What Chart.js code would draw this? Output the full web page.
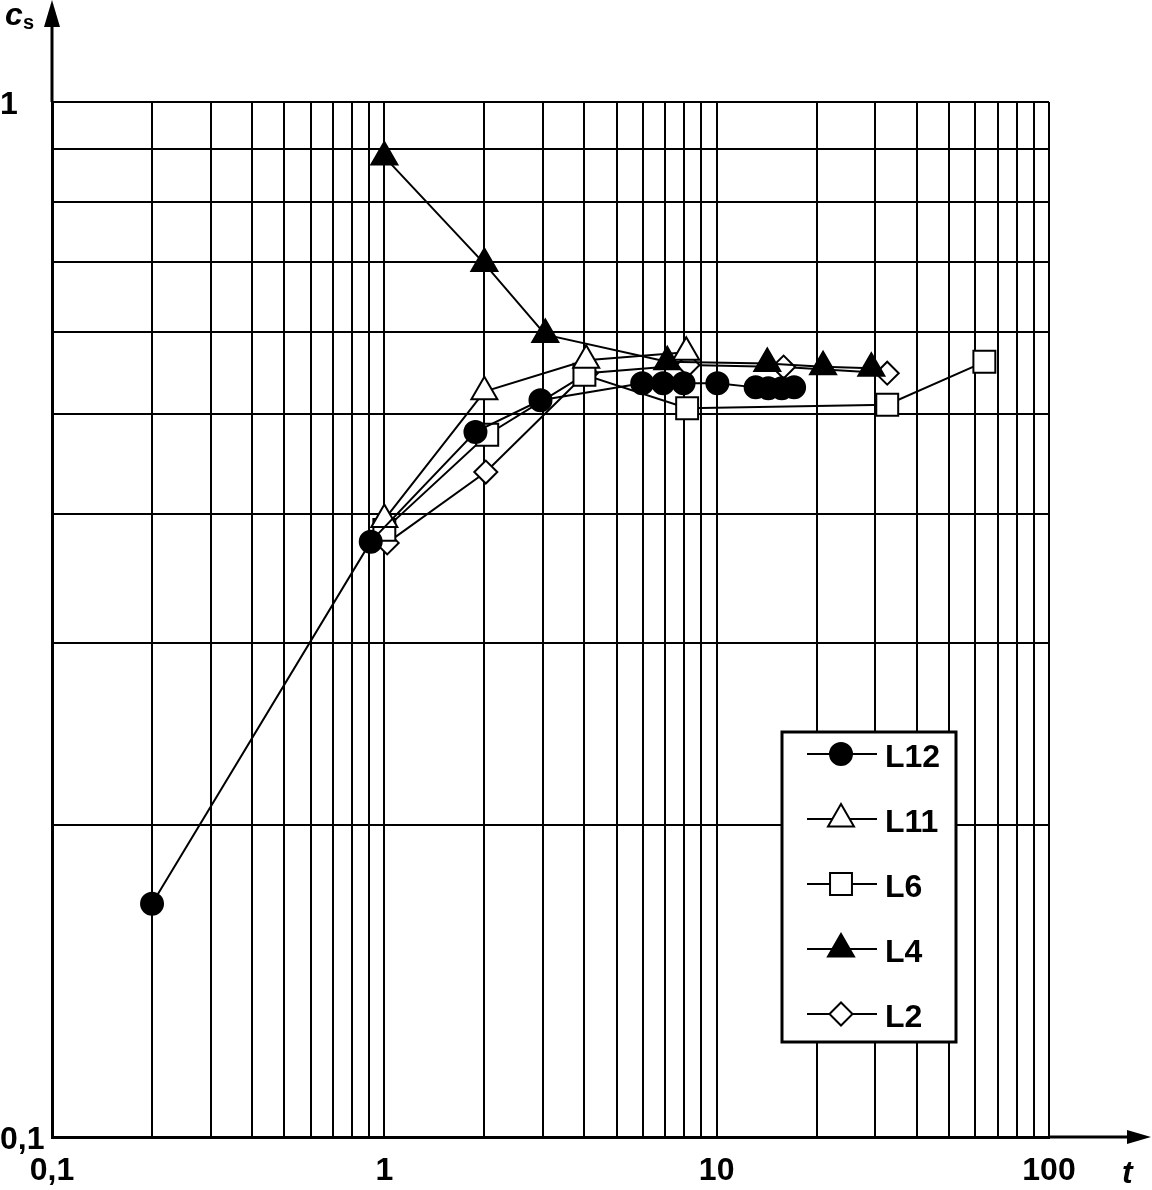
<!DOCTYPE html>
<html>
<head>
<meta charset="utf-8">
<script src="https://cdn.jsdelivr.net/npm/chart.js@4.4.1/dist/chart.umd.min.js"></script>
<style>
  html, body { margin: 0; padding: 0; background: #fff; }
  canvas { display: block; }
</style>
</head>
<body>
<canvas id="cs-chart" width="1152" height="1190"></canvas>
<script>
// t values (log axis) and c_s values
const l12T = [0.2, 0.91, 1.88, 2.95, 5.97, 6.9, 7.95, 10.05, 13.1, 14.3, 15.7, 17.1];
const l12C = [0.168, 0.376, 0.480, 0.515, 0.535, 0.535, 0.535, 0.535, 0.530, 0.529, 0.529, 0.530];

const l11T = [1, 2, 4.05, 8.1];
const l11C = [0.395, 0.525, 0.563, 0.573];

const l6T = [1, 2.04, 4.0, 8.15, 32.6, 63.9];
const l6C = [0.386, 0.477, 0.545, 0.506, 0.510, 0.561];

const l4T = [1, 2, 3.05, 7.1, 14.2, 20.9, 29.2];
const l4C = [0.885, 0.698, 0.596, 0.561, 0.559, 0.555, 0.553];

const l2T = [1.02, 2.02, 4.05, 8.2, 15.9, 32.6];
const l2C = [0.375, 0.439, 0.547, 0.557, 0.5545, 0.547];

const seriesNames = ['L12', 'L11', 'L6', 'L4', 'L2'];

// grid lines and the labelled decades
const xGrid = [0.1, 0.2, 0.3, 0.4, 0.5, 0.6, 0.7, 0.8, 0.9,
               1, 2, 3, 4, 5, 6, 7, 8, 9,
               10, 20, 30, 40, 50, 60, 70, 80, 90, 100];
const xMajor = [0.1, 1, 10, 100];
const xTickLabels = ['0,1', '1', '10', '100'];

const yGrid = [0.1, 0.2, 0.3, 0.4, 0.5, 0.6, 0.7, 0.8, 0.9, 1];
const yMajor = [0.1, 1];
const yTickLabels = ['0,1', '1'];

const FONT = '"Liberation Sans", Arial, Helvetica, sans-serif';
Chart.defaults.font.family = FONT;
Chart.defaults.color = '#000';

function pts(ts, cs) {
  return ts.map((t, i) => ({ x: t, y: cs[i] }));
}

function series(name, ts, cs, style, radius, fill) {
  return {
    label: name,
    data: pts(ts, cs),
    borderColor: '#000',
    borderWidth: 2,
    pointStyle: style,
    pointRadius: radius,
    pointBackgroundColor: fill,
    pointBorderColor: '#000',
    pointBorderWidth: 2,
    pointHoverRadius: radius,
    tension: 0,
    fill: false
  };
}

const datasets = [
  series(seriesNames[0], l12T, l12C, 'circle', 11, '#000'),
  series(seriesNames[1], l11T, l11C, 'triangle', 15, '#fff'),
  series(seriesNames[2], l6T, l6C, 'rect', 15.5, '#fff'),
  series(seriesNames[3], l4T, l4C, 'triangle', 15, '#000'),
  series(seriesNames[4], l2T, l2C, 'rectRot', 11.5, '#fff')
];

function labelFor(v, majors, labels) {
  const i = majors.indexOf(v);
  return i >= 0 ? labels[i] : '';
}

// arrows, axis names and the boxed legend
const decorations = {
  id: 'decorations',
  afterDraw(chart) {
    const ctx = chart.ctx;
    const a = chart.chartArea;
    ctx.save();
    ctx.fillStyle = '#000';
    ctx.strokeStyle = '#000';
    ctx.lineWidth = 3;

    ctx.beginPath();
    ctx.moveTo(a.left, a.top);
    ctx.lineTo(a.left, 16);
    ctx.stroke();
    ctx.beginPath();
    ctx.moveTo(a.left, 0);
    ctx.lineTo(a.left - 8, 27);
    ctx.lineTo(a.left + 8, 27);
    ctx.closePath();
    ctx.fill();

    ctx.beginPath();
    ctx.moveTo(a.right, a.bottom);
    ctx.lineTo(1136, a.bottom);
    ctx.stroke();
    ctx.beginPath();
    ctx.moveTo(1151, a.bottom);
    ctx.lineTo(1127, a.bottom - 7);
    ctx.lineTo(1127, a.bottom + 7);
    ctx.closePath();
    ctx.fill();

    ctx.textBaseline = 'alphabetic';
    ctx.textAlign = 'left';
    ctx.font = 'italic bold 32px ' + FONT;
    ctx.fillText('c', 5, 25);
    ctx.font = 'bold 20px ' + FONT;
    ctx.fillText('s', 23, 29);
    ctx.font = 'italic bold 32px ' + FONT;
    ctx.fillText('t', 1122, 1183);

    // legend
    const box = { left: 782, top: 732, right: 956, bottom: 1042 };
    ctx.fillStyle = '#fff';
    ctx.fillRect(box.left, box.top, box.right - box.left, box.bottom - box.top);
    ctx.lineWidth = 3;
    ctx.strokeRect(box.left, box.top, box.right - box.left, box.bottom - box.top);

    chart.data.datasets.forEach((ds, i) => {
      const y = 754 + i * 65;
      ctx.lineWidth = 2;
      ctx.strokeStyle = '#000';
      ctx.beginPath();
      ctx.moveTo(807, y);
      ctx.lineTo(877, y);
      ctx.stroke();
      ctx.fillStyle = ds.pointBackgroundColor;
      Chart.helpers.drawPoint(ctx, {
        pointStyle: ds.pointStyle,
        radius: ds.pointRadius,
        rotation: 0,
        borderWidth: 2
      }, 841, y);
      ctx.fillStyle = '#000';
      ctx.font = 'bold 32px ' + FONT;
      ctx.textBaseline = 'middle';
      ctx.fillText(ds.label, 885, y + 4);
    });
    ctx.restore();
  }
};

new Chart(document.getElementById('cs-chart'), {
  type: 'line',
  data: { datasets: datasets },
  options: {
    responsive: false,
    animation: false,
    events: [],
    layout: { padding: { top: 102, right: 103, left: 0, bottom: 0 } },
    plugins: {
      legend: { display: false },
      tooltip: { enabled: false }
    },
    scales: {
      x: {
        type: 'logarithmic',
        min: 0.1,
        max: 100,
        afterBuildTicks: s => { s.ticks = xGrid.map(v => ({ value: v })); },
        afterFit: s => { s.height = 53; },
        grid: { color: '#000', lineWidth: 2, drawTicks: false },
        border: { color: '#000', width: 3 },
        ticks: {
          autoSkip: false,
          maxRotation: 0,
          padding: 15,
          color: '#000',
          font: { size: 32, weight: 'bold' },
          callback: v => labelFor(v, xMajor, xTickLabels)
        }
      },
      y: {
        type: 'logarithmic',
        min: 0.1,
        max: 1,
        afterBuildTicks: s => { s.ticks = yGrid.map(v => ({ value: v })); },
        afterFit: s => { s.width = 52; },
        grid: { color: '#000', lineWidth: 2, drawTicks: false },
        border: { color: '#000', width: 3 },
        ticks: {
          autoSkip: false,
          crossAlign: 'far',
          padding: 0,
          labelOffset: 3,
          color: '#000',
          font: { size: 32, weight: 'bold' },
          callback: v => labelFor(v, yMajor, yTickLabels)
        }
      }
    }
  },
  plugins: [decorations]
});
</script>
</body>
</html>
